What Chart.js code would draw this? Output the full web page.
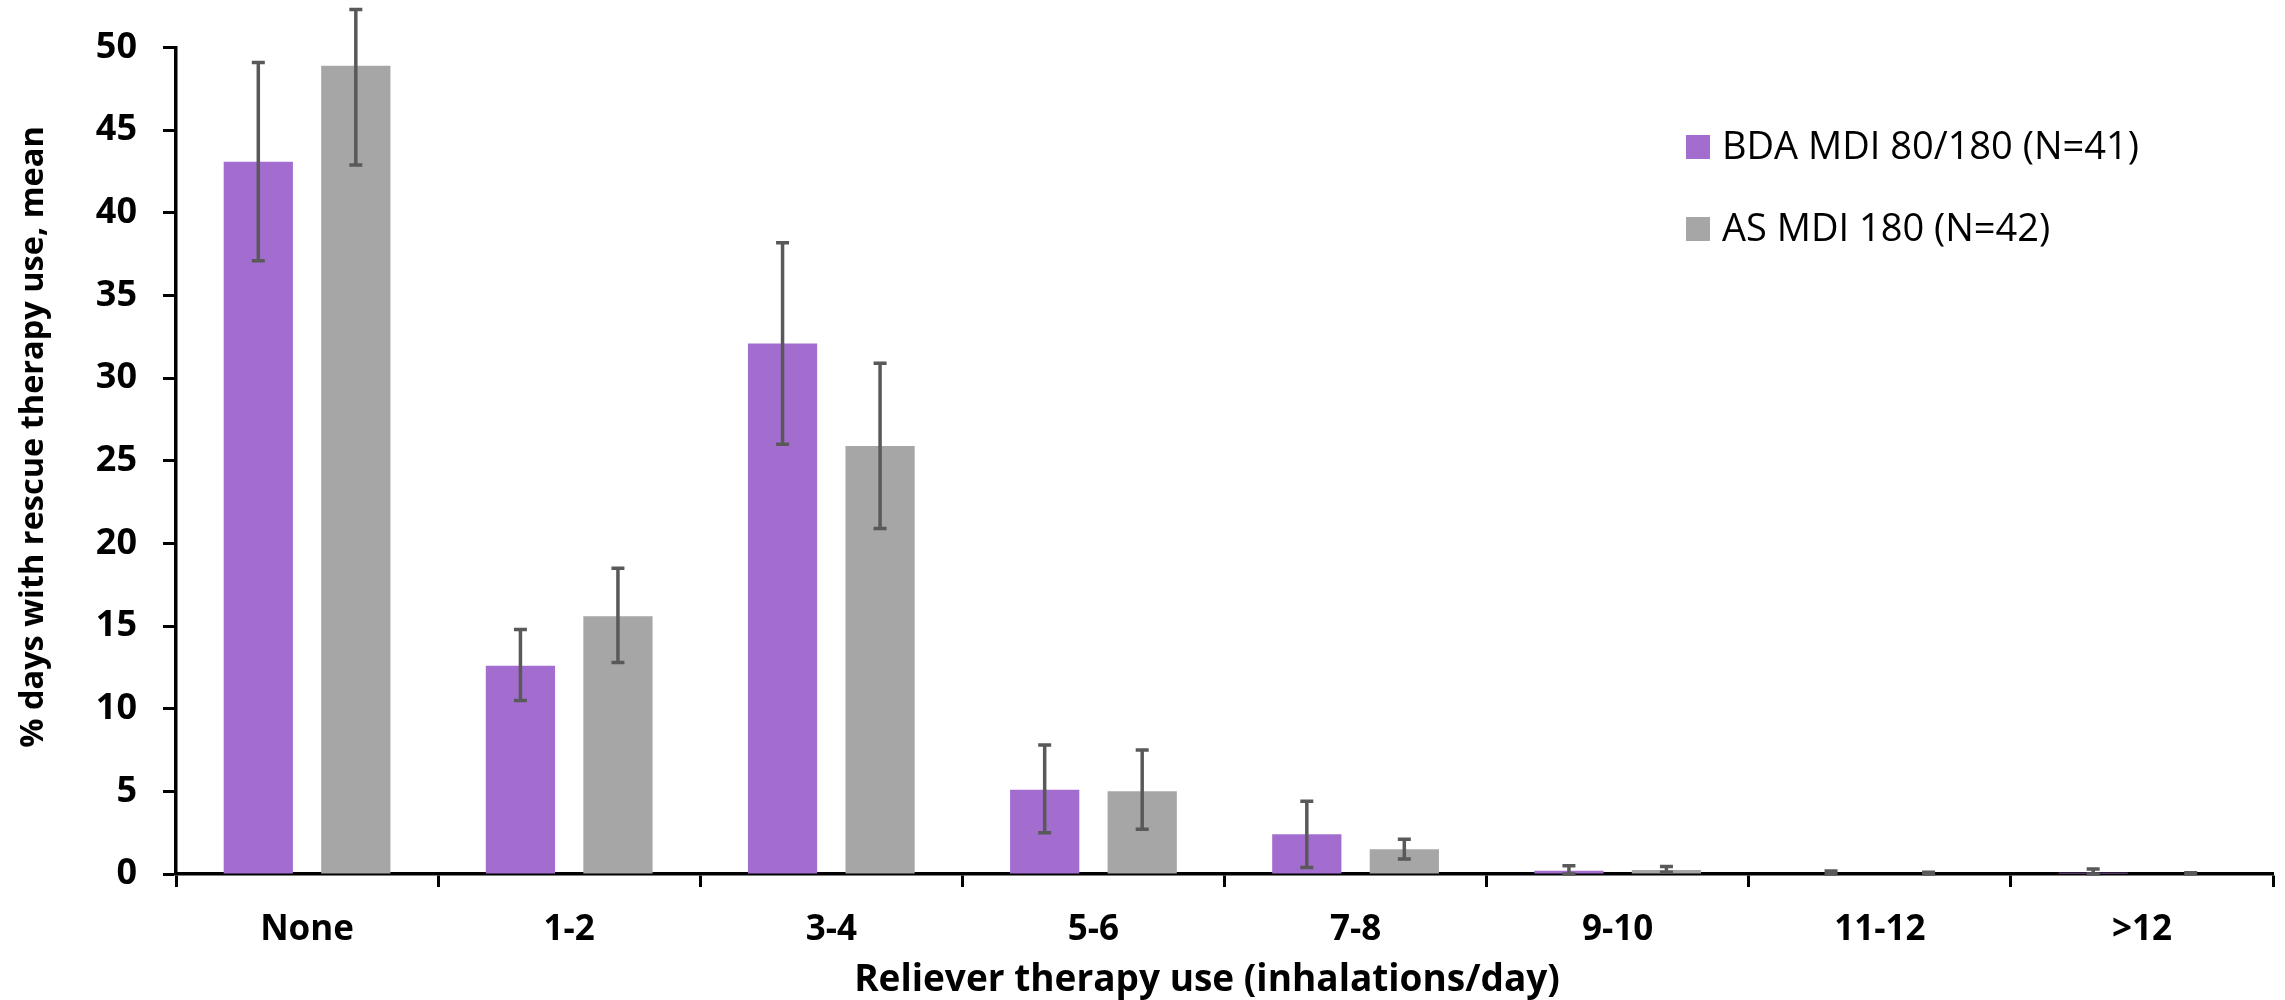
<!DOCTYPE html>
<html>
<head>
<meta charset="utf-8">
<script src="https://cdn.jsdelivr.net/npm/chart.js@4.4.1/dist/chart.umd.min.js"></script>
<style>
  html, body { margin: 0; padding: 0; background: #fff; }
  #wrap { width: 2285px; height: 1000px; }
</style>
</head>
<body>
<div id="wrap"><canvas id="chart" width="2285" height="1000"></canvas></div>
<script>
// Relief inhaler use categories (inhalations per day)
const categories = ['None', '1-2', '3-4', '5-6', '7-8', '9-10', '11-12', '>12'];

// BDA MDI 80/180: mean % of days, with error bar bounds
const bdaLabel = 'BDA MDI 80/180 (N=41)';
const bdaMean = [43.1, 12.6, 32.1, 5.1, 2.4, 0.2, 0.0, 0.08];
const bdaLow  = [37.1, 10.5, 26.0, 2.5, 0.4, 0.0, 0.0, 0.0];
const bdaHigh = [49.1, 14.8, 38.2, 7.8, 4.4, 0.5, 0.18, 0.3];

// AS MDI 180: mean % of days, with error bar bounds
const asLabel = 'AS MDI 180 (N=42)';
const asMean = [48.9, 15.6, 25.9, 5.0, 1.5, 0.24, 0.0, 0.0];
const asLow  = [42.9, 12.8, 20.9, 2.7, 0.9, 0.1, 0.0, 0.0];
const asHigh = [52.3, 18.5, 30.9, 7.5, 2.1, 0.45, 0.1, 0.08];

const yTicks = [0, 5, 10, 15, 20, 25, 30, 35, 40, 45, 50];

const xTitle = 'Reliever therapy use (inhalations/day)';
const yTitle = '% days with rescue therapy use, mean';

const PURPLE = '#A36DD0';
const GREY = '#A6A6A6';
const ERR = '#595959';
const FONT = "'Open Sans', 'DejaVu Sans', sans-serif";

// Draws vertical error bars with caps from the low/high arrays
const errorBars = {
  id: 'errorBars',
  afterDatasetsDraw(chart) {
    const ctx = chart.ctx;
    const y = chart.scales.y;
    chart.data.datasets.forEach((ds, i) => {
      const meta = chart.getDatasetMeta(i);
      meta.data.forEach((bar, j) => {
        const x = bar.x;
        const yl = y.getPixelForValue(ds.errLow[j]);
        const yh = y.getPixelForValue(ds.errHigh[j]);
        ctx.save();
        ctx.strokeStyle = ERR;
        ctx.lineWidth = 3.5;
        ctx.beginPath();
        ctx.moveTo(x, yl); ctx.lineTo(x, yh);
        ctx.moveTo(x - 6.5, yl); ctx.lineTo(x + 6.5, yl);
        ctx.moveTo(x - 6.5, yh); ctx.lineTo(x + 6.5, yh);
        ctx.stroke();
        ctx.restore();
      });
    });
  }
};

// Legend inside the plot (top right) and the two axis titles
const annotations = {
  id: 'annotations',
  afterDraw(chart) {
    const ctx = chart.ctx;
    const rows = [147, 229];
    ctx.save();
    ctx.font = '38px ' + FONT;
    ctx.textBaseline = 'middle';
    ctx.textAlign = 'left';
    chart.data.datasets.forEach((ds, i) => {
      const cy = rows[i];
      ctx.fillStyle = ds.backgroundColor;
      ctx.fillRect(1686, cy - 12, 24, 24);
      ctx.fillStyle = '#000';
      ctx.fillText(ds.label, 1722, cy + 1);
    });

    ctx.fillStyle = '#000';
    ctx.textAlign = 'center';
    ctx.font = 'bold 37px ' + FONT;
    ctx.fillText(xTitle, 1207, 980);

    ctx.translate(34, 437);
    ctx.rotate(-Math.PI / 2);
    ctx.font = 'bold 32.5px ' + FONT;
    ctx.fillText(yTitle, 0, 0);
    ctx.restore();
  }
};

new Chart(document.getElementById('chart'), {
  type: 'bar',
  data: {
    labels: categories,
    datasets: [
      { label: bdaLabel, data: bdaMean, errLow: bdaLow, errHigh: bdaHigh,
        backgroundColor: PURPLE, categoryPercentage: 0.744, barPercentage: 0.71 },
      { label: asLabel, data: asMean, errLow: asLow, errHigh: asHigh,
        backgroundColor: GREY, categoryPercentage: 0.744, barPercentage: 0.71 }
    ]
  },
  options: {
    responsive: false,
    animation: false,
    layout: { padding: { top: 47, right: 12, left: 0, bottom: 0 } },
    plugins: {
      legend: { display: false },
      tooltip: { enabled: false }
    },
    scales: {
      x: {
        grid: { display: true, drawOnChartArea: false, offset: true,
                tickLength: 13, tickWidth: 3, tickColor: '#000' },
        border: { display: true, color: '#000', width: 3.5 },
        ticks: { color: '#000', padding: 22, font: { family: FONT, size: 35, weight: 'bold' } },
        afterFit(s) { s.height = 126; }
      },
      y: {
        min: 0, max: 50,
        afterBuildTicks(s) { s.ticks = yTicks.map(v => ({ value: v })); },
        grid: { display: true, drawOnChartArea: false,
                tickLength: 13, tickWidth: 3, tickColor: '#000' },
        border: { display: true, color: '#000', width: 3.5 },
        ticks: { color: '#000', padding: 26, font: { family: FONT, size: 36, weight: 'bold' } },
        afterFit(s) { s.width = 176; }
      }
    }
  },
  plugins: [errorBars, annotations]
});
</script>
</body>
</html>
